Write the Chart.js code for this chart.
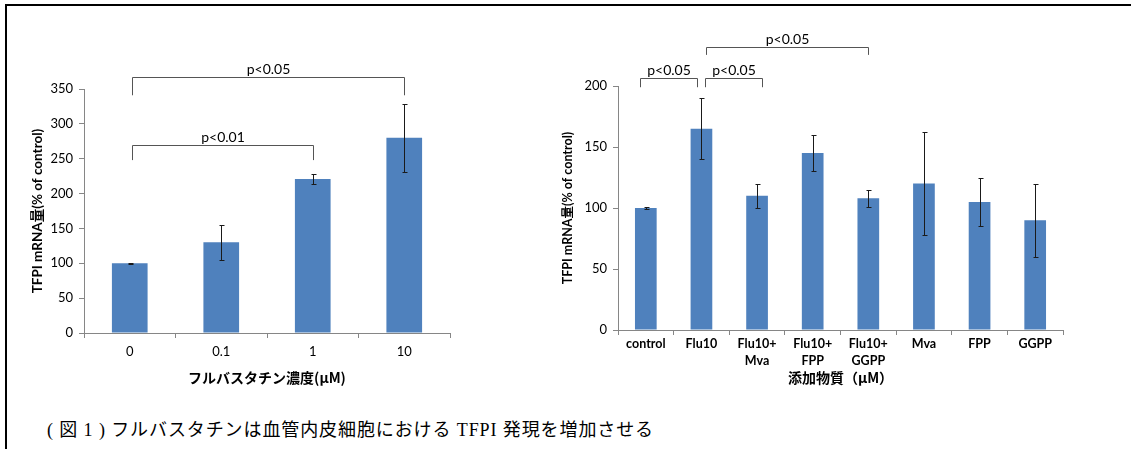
<!DOCTYPE html>
<html lang="ja">
<head>
<meta charset="utf-8">
<title>TFPI mRNA</title>
<script src="https://cdn.jsdelivr.net/npm/chart.js@4.4.0/dist/chart.umd.min.js"></script>
<style>
  html, body { margin: 0; padding: 0; background: #fff; }
  body { width: 1131px; height: 449px; position: relative; overflow: hidden; }
  #frame { position: absolute; left: 5px; top: 4px; width: 1130px; height: 460px;
           border-top: 2px solid #000; border-left: 2px solid #000; box-sizing: border-box; }
  #doseBox { position: absolute; left: 10px; top: 20px; width: 455px; height: 370px; }
  #agentBox { position: absolute; left: 560px; top: 20px; width: 520px; height: 370px; }
  #caption { position: absolute; left: 47px; top: 417px; font-size: 18px; line-height: 26px; letter-spacing: 0.9px;
             font-family: "Liberation Serif", "Noto Sans CJK JP", serif; color: #000; white-space: nowrap; }
</style>
</head>
<body>
<div id="frame"></div>
<div id="doseBox"><canvas id="doseChart" width="455" height="370"></canvas></div>
<div id="agentBox"><canvas id="agentChart" width="520" height="370"></canvas></div>
<div id="caption">( 図 1 ) フルバスタチンは血管内皮細胞における TFPI 発現を増加させる</div>
<script>
// Fluvastatin dose response
const doseLabels = ['0', '0.1', '1', '10'];
const doseMeans = [100, 130, 221, 280];
const doseErrors = [0.5, 25, 7.5, 48.5];
const doseTicks = { min: 0, max: 350, step: 50 };

// Added substances
const agentLabels = ['control', 'Flu10', ['Flu10+', 'Mva'], ['Flu10+', 'FPP'], ['Flu10+', 'GGPP'], 'Mva', 'FPP', 'GGPP'];
const agentMeans = [100, 165, 110, 145, 108, 120, 105, 90];
const agentErrors = [0.5, 25, 10, 15, 7, 42, 20, 30];
const agentTicks = { min: 0, max: 200, step: 50 };

// Significance brackets (from/to in category index, top/leg in axis units)
const doseBrackets = [
  { from: 0.03, to: 3.0, top: 367, leg: 341, text: 'p<0.05' },
  { from: 0.03, to: 2.0, top: 270, leg: 248, text: 'p<0.01' }
];
const agentBrackets = [
  { from: -0.1, to: 0.92, top: 206.4, leg: 199, text: 'p<0.05' },
  { from: 1.06, to: 2.09, top: 206.4, leg: 199, text: 'p<0.05' },
  { from: 1.08, to: 4.0, top: 232, leg: 225.5, text: 'p<0.05' }
];

const BAR_BLUE = '#4F81BD';
const AXIS_GRAY = '#868686';
const LATIN = "Lato, 'Noto Sans CJK JP', sans-serif";
const CJK = "'Noto Sans CJK JP', Lato, sans-serif";

const crisp = v => Math.round(v) + 0.5;

const errorBarPlugin = {
  id: 'errorBars',
  afterDatasetsDraw(chart, args, opts) {
    const { ctx } = chart;
    const y = chart.scales.y;
    chart.data.datasets.forEach((ds, di) => {
      const meta = chart.getDatasetMeta(di);
      meta.data.forEach((bar, i) => {
        const v = ds.data[i], e = ds.errors[i];
        const x = crisp(bar.x);
        const hi = crisp(y.getPixelForValue(v + e));
        const lo = crisp(y.getPixelForValue(v - e));
        ctx.save();
        ctx.strokeStyle = opts.color;
        ctx.lineWidth = 1;
        ctx.beginPath();
        ctx.moveTo(x, hi); ctx.lineTo(x, lo);
        ctx.moveTo(x - opts.cap, hi); ctx.lineTo(x + opts.cap + 1, hi);
        ctx.moveTo(x - opts.cap, lo); ctx.lineTo(x + opts.cap + 1, lo);
        ctx.stroke();
        ctx.restore();
      });
    });
  }
};

const bracketPlugin = {
  id: 'brackets',
  afterDraw(chart, args, opts) {
    const { ctx } = chart;
    const { x, y } = chart.scales;
    opts.items.forEach(b => {
      const x1 = crisp(x.getPixelForValue(b.from));
      const x2 = crisp(x.getPixelForValue(b.to));
      const yt = crisp(y.getPixelForValue(b.top));
      const yl = y.getPixelForValue(b.leg);
      ctx.save();
      ctx.strokeStyle = opts.color;
      ctx.lineWidth = 1;
      ctx.beginPath();
      ctx.moveTo(x1, yl); ctx.lineTo(x1, yt); ctx.lineTo(x2, yt); ctx.lineTo(x2, yl);
      ctx.stroke();
      ctx.fillStyle = '#000';
      ctx.font = opts.font;
      ctx.textAlign = 'center';
      ctx.textBaseline = 'middle';
      ctx.fillText(b.text, (x1 + x2) / 2, yt - opts.gap);
      ctx.restore();
    });
  }
};

function makeChart(id, cfg) {
  return new Chart(document.getElementById(id), {
    type: 'bar',
    data: {
      labels: cfg.labels,
      datasets: [{
        data: cfg.means,
        errors: cfg.errors,
        backgroundColor: BAR_BLUE,
        borderWidth: 0,
        categoryPercentage: 1,
        barPercentage: 0.39
      }]
    },
    options: {
      responsive: false,
      animation: false,
      events: [],
      layout: { padding: cfg.padding },
      plugins: {
        legend: { display: false },
        tooltip: { enabled: false },
        errorBars: { color: '#1a1a1a', cap: 2 },
        brackets: { items: cfg.brackets, color: '#555', font: "14px " + LATIN, gap: 8.5 }
      },
      scales: {
        x: {
          grid: { offset: true, drawOnChartArea: false, drawTicks: true, tickLength: 5, color: AXIS_GRAY },
          border: { display: true, color: AXIS_GRAY },
          ticks: { color: '#000', padding: cfg.xTickPad, font: cfg.xTickFont, maxRotation: 0, autoSkip: false },
          title: { display: true, text: cfg.xTitle, color: '#000', font: { family: CJK, size: 14, weight: 'bold' }, padding: { top: 0, bottom: 4 } },
          afterFit: s => { s.height = cfg.xHeight; }
        },
        y: {
          min: cfg.ticks.min,
          max: cfg.ticks.max,
          grid: { drawOnChartArea: false, drawTicks: true, tickLength: 5, color: AXIS_GRAY },
          border: { display: true, color: AXIS_GRAY },
          ticks: { stepSize: cfg.ticks.step, color: '#000', padding: 6, font: { family: LATIN, size: 13 } },
          title: { display: true, text: 'TFPI mRNA量(% of control)', color: '#000', font: { family: LATIN, size: cfg.yTitleSize, weight: 'bold' }, padding: { top: cfg.yTitlePad, bottom: 0 } },
          afterFit: s => { s.width = cfg.yWidth; }
        }
      }
    },
    plugins: [errorBarPlugin, bracketPlugin]
  });
}

makeChart('doseChart', {
  labels: doseLabels, means: doseMeans, errors: doseErrors, ticks: doseTicks,
  brackets: doseBrackets,
  padding: { top: 69, right: 15, left: 0, bottom: 0 },
  xTitle: 'フルバスタチン濃度(μM)',
  xTickPad: 6, xTickFont: { family: LATIN, size: 13 },
  xHeight: 57, yWidth: 74, yTitlePad: 20, yTitleSize: 13.5
});

makeChart('agentChart', {
  labels: agentLabels, means: agentMeans, errors: agentErrors, ticks: agentTicks,
  brackets: agentBrackets,
  padding: { top: 66, right: 17, left: 0, bottom: 0 },
  xTitle: '添加物質（μM）',
  xTickPad: 1, xTickFont: { family: LATIN, size: 12.5, weight: 'bold', lineHeight: 1.35 },
  xHeight: 60, yWidth: 58, yTitlePad: 0.5, yTitleSize: 12.5
});
</script>
</body>
</html>
